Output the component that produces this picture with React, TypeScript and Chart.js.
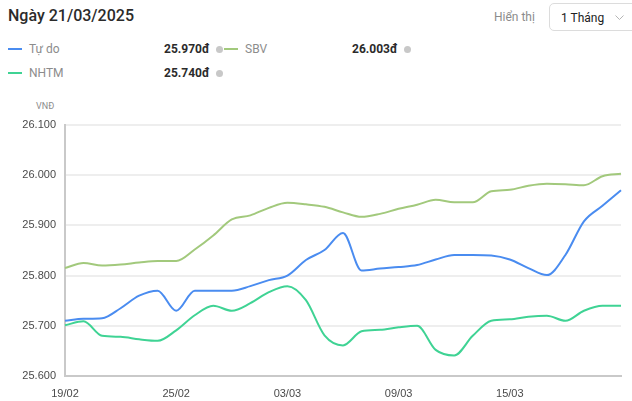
import React, { useEffect, useRef } from "react";
import { Chart, registerables } from "chart.js";

Chart.register(...registerables);

const dates = [
  "19/02", "20/02", "21/02", "22/02", "23/02", "24/02", "25/02", "26/02", "27/02", "28/02",
  "01/03", "02/03", "03/03", "04/03", "05/03", "06/03", "07/03", "08/03", "09/03", "10/03",
  "11/03", "12/03", "13/03", "14/03", "15/03", "16/03", "17/03", "18/03", "19/03", "20/03", "21/03",
];

const tuDo = [
  25710, 25714, 25715, 25735, 25760, 25770, 25730, 25770, 25770, 25770,
  25779, 25791, 25800, 25831, 25851, 25885, 25810, 25814, 25817, 25821,
  25832, 25841, 25841, 25840, 25832, 25815, 25801, 25841, 25908, 25939, 25970,
];

const sbv = [
  25815, 25825, 25820, 25822, 25826, 25829, 25829, 25852, 25880, 25912,
  25920, 25935, 25945, 25942, 25937, 25926, 25917, 25923, 25933, 25941,
  25951, 25946, 25946, 25968, 25971, 25979, 25983, 25982, 25980, 25998, 26003,
];

const nhtm = [
  25701, 25709, 25680, 25678, 25673, 25670, 25691, 25721, 25740, 25730,
  25745, 25767, 25779, 25751, 25681, 25661, 25689, 25692, 25697, 25700,
  25652, 25641, 25680, 25710, 25713, 25718, 25720, 25710, 25730, 25740, 25740,
];

const yMin = 25600;
const yMax = 26100;
const yStep = 100;

const BLUE = "#4a8cf0";
const SBV_GREEN = "#a2c97c";
const TEAL = "#3fd394";

function fmt(v: number): string {
  const s = Math.round(v).toString();
  return s.replace(/\B(?=(\d{3})+(?!\d))/g, ".");
}

const FONT = "Roboto, 'Noto Sans', sans-serif";

function InfoDot({ left, top }: { left: number; top: number }) {
  return (
    <span
      style={{
        position: "absolute",
        left,
        top,
        width: 7,
        height: 7,
        borderRadius: 4,
        background: "#c8c8c8",
      }}
    />
  );
}

function LegendItem({
  left,
  top,
  color,
  label,
  value,
  valueLeft,
}: {
  left: number;
  top: number;
  color: string;
  label: string;
  value: string;
  valueLeft: number;
}) {
  return (
    <>
      <span
        style={{
          position: "absolute",
          left,
          top: top + 7,
          width: 14,
          height: 2,
          background: color,
        }}
      />
      <span
        style={{
          position: "absolute",
          left: left + 21,
          top: top,
          fontSize: 12,
          lineHeight: "16px",
          color: "#8c8c8c",
        }}
      >
        {label}
      </span>
      <span
        style={{
          position: "absolute",
          left: valueLeft,
          top: top,
          fontSize: 12,
          lineHeight: "16px",
          fontWeight: 700,
          color: "#2b2b2b",
        }}
      >
        {value}
      </span>
      <InfoDot left={valueLeft + 52} top={top + 5} />
    </>
  );
}

export default function App() {
  const canvasRef = useRef<HTMLCanvasElement | null>(null);

  useEffect(() => {
    document.body.style.margin = "0";
    const canvas = canvasRef.current;
    if (!canvas) return;
    const chart = new Chart(canvas, {
      type: "line",
      data: {
        labels: dates,
        datasets: [
          {
            label: "Tự do",
            data: tuDo,
            borderColor: BLUE,
            backgroundColor: BLUE,
            borderWidth: 2,
            pointRadius: 0,
            cubicInterpolationMode: "monotone",
          },
          {
            label: "SBV",
            data: sbv,
            borderColor: SBV_GREEN,
            backgroundColor: SBV_GREEN,
            borderWidth: 2,
            pointRadius: 0,
            cubicInterpolationMode: "monotone",
          },
          {
            label: "NHTM",
            data: nhtm,
            borderColor: TEAL,
            backgroundColor: TEAL,
            borderWidth: 2,
            pointRadius: 0,
            cubicInterpolationMode: "monotone",
          },
        ],
      },
      options: {
        animation: false,
        responsive: false,
        maintainAspectRatio: false,
        layout: { padding: { top: 25, right: 9, left: 0, bottom: 0 } },
        plugins: {
          legend: { display: false },
          tooltip: { enabled: false },
        },
        scales: {
          x: {
            grid: { display: false, drawTicks: false },
            border: { display: true, color: "#c9c9c9", width: 2 },
            ticks: {
              autoSkip: false,
              maxRotation: 0,
              padding: 11,
              color: "#4a4a4a",
              font: { size: 11, family: "'Liberation Sans', Arial, sans-serif" },
              callback: (_v: any, i: number) => (i % 6 === 0 && i < 30 ? dates[i] : ""),
            },
            afterFit: (s: any) => {
              s.height = 25;
            },
          },
          y: {
            min: yMin,
            max: yMax,
            grid: { color: "#eeeeee", lineWidth: 2, drawTicks: false },
            border: { display: true, color: "#c9c9c9", width: 2 },
            ticks: {
              stepSize: yStep,
              padding: 9,
              color: "#4a4a4a",
              font: { size: 11, family: "'Liberation Sans', Arial, sans-serif" },
              callback: (v: any) => fmt(Number(v)),
            },
            afterFit: (s: any) => {
              s.width = 65;
            },
          },
        },
      },
    } as any);
    return () => chart.destroy();
  }, []);

  return (
    <div
      style={{
        position: "relative",
        width: 632,
        height: 401,
        fontFamily: FONT,
        overflow: "hidden",
        background: "#fff",
      }}
    >
      <div
        style={{
          position: "absolute",
          left: 8,
          top: 5,
          fontSize: 16,
          lineHeight: "22px",
          fontWeight: 500,
          color: "#2b2b2b",
        }}
      >
        Ngày 21/03/2025
      </div>
      <div
        style={{
          position: "absolute",
          left: 494,
          top: 9,
          fontSize: 12,
          lineHeight: "16px",
          color: "#8c8c8c",
        }}
      >
        Hiển thị
      </div>
      <div
        style={{
          position: "absolute",
          left: 549,
          top: 3,
          width: 90,
          height: 28,
          border: "1px solid #dcdcdc",
          borderRadius: 5,
          boxSizing: "border-box",
        }}
      >
        <span
          style={{
            position: "absolute",
            left: 11,
            top: 6,
            fontSize: 12,
            lineHeight: "16px",
            color: "#222",
          }}
        >
          1 Tháng
        </span>
        <svg
          style={{ position: "absolute", left: 65, top: 11 }}
          width="9"
          height="6"
          viewBox="0 0 9 6"
        >
          <polyline points="0.5,0.5 4.5,4.5 8.5,0.5" fill="none" stroke="#b5b5b5" strokeWidth="1" />
        </svg>
      </div>

      <LegendItem left={8} top={41} color={BLUE} label="Tự do" value="25.970đ" valueLeft={164} />
      <LegendItem left={224} top={41} color={SBV_GREEN} label="SBV" value="26.003đ" valueLeft={352} />
      <LegendItem left={8} top={65} color={TEAL} label="NHTM" value="25.740đ" valueLeft={164} />

      <div
        style={{
          position: "absolute",
          left: 36,
          top: 101,
          fontSize: 9,
          lineHeight: "11px",
          color: "#8c8c8c",
        }}
      >
        VNĐ
      </div>

      <canvas
        ref={canvasRef}
        width={632}
        height={301}
        style={{ position: "absolute", left: 0, top: 100, width: 632, height: 301 }}
      />
    </div>
  );
}
